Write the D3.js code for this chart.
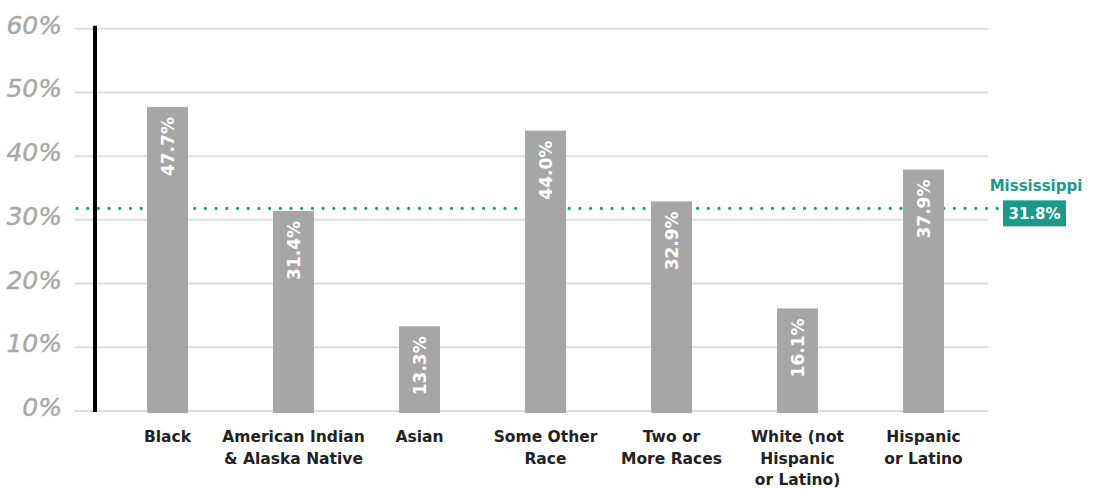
<!DOCTYPE html>
<html>
<head>
<meta charset="utf-8">
<script src="https://cdn.jsdelivr.net/npm/d3@7"></script>
<style>
  html, body { margin: 0; padding: 0; background: #fff; }
  svg { display: block; }
</style>
</head>
<body>
<svg id="chart" width="1094" height="489"></svg>
<script>
const categories = [
  ["Black"],
  ["American Indian", "& Alaska Native"],
  ["Asian"],
  ["Some Other", "Race"],
  ["Two or", "More Races"],
  ["White (not", "Hispanic", "or Latino)"],
  ["Hispanic", "or Latino"]
];
const values = [47.7, 31.4, 13.3, 44.0, 32.9, 16.1, 37.9];
const yTicks = [0, 10, 20, 30, 40, 50, 60];
const stateName = "Mississippi";
const stateValue = 31.8;

const svg = d3.select("#chart");
const teal = "#1a9a87";
const barColor = "#a6a6a6";
const fontFam = "'DejaVu Sans', sans-serif";

const y = d3.scaleLinear().domain([0, 60]).range([411, 28.7]);
const x = d3.scaleBand().domain(d3.range(categories.length)).range([104.5, 986.5]).paddingInner(0.675).paddingOuter(0.3375);

// gridlines
svg.append("g").selectAll("line").data(yTicks).join("line")
  .attr("x1", 75).attr("x2", 988)
  .attr("y1", d => y(d)).attr("y2", d => y(d))
  .attr("stroke", "#dcdcdc").attr("stroke-width", 2);

// y labels
svg.append("g").selectAll("text").data(yTicks).join("text")
  .attr("x", 62).attr("y", d => y(d) + 5)
  .attr("text-anchor", "end")
  .attr("font-family", fontFam).attr("font-style", "italic")
  .attr("font-size", 25).attr("fill", "#a8a8a8")
  .attr("stroke", "#a8a8a8").attr("stroke-width", 0.4)
  .text(d => d + "%");

// state dotted line
svg.append("line")
  .attr("x1", 77).attr("x2", 1000)
  .attr("y1", y(stateValue)).attr("y2", y(stateValue))
  .attr("stroke", teal).attr("stroke-width", 3.2)
  .attr("stroke-linecap", "round").attr("stroke-dasharray", "0,10.7");

// bars
svg.append("g").selectAll("rect").data(values).join("rect")
  .attr("x", (d, i) => x(i)).attr("width", x.bandwidth())
  .attr("y", d => y(d)).attr("height", d => y(0) + 2 - y(d))
  .attr("fill", barColor);

// vertical axis line
svg.append("line")
  .attr("x1", 95).attr("x2", 95)
  .attr("y1", y(60) - 3).attr("y2", y(0) + 1)
  .attr("stroke", "#000").attr("stroke-width", 4);

// bar value labels
svg.append("g").selectAll("text").data(values).join("text")
  .attr("transform", (d, i) => `translate(${x(i) + x.bandwidth() / 2 + 6.5},${y(d) + 10}) rotate(-90)`)
  .attr("text-anchor", "end")
  .attr("font-family", fontFam).attr("font-weight", "bold")
  .attr("font-size", 17).attr("fill", "#fff")
  .text(d => d.toFixed(1) + "%");

// x labels
const xl = svg.append("g").selectAll("text").data(categories).join("text")
  .attr("x", (d, i) => x(i) + x.bandwidth() / 2)
  .attr("y", 442)
  .attr("text-anchor", "middle")
  .attr("font-family", fontFam).attr("font-weight", "bold")
  .attr("font-size", 15.5).attr("fill", "#222");
xl.selectAll("tspan").data(d => d).join("tspan")
  .attr("x", function() { return d3.select(this.parentNode).attr("x"); })
  .attr("dy", (d, j) => j === 0 ? 0 : 21.5)
  .text(d => d);

// state label
svg.append("text")
  .attr("x", 1036).attr("y", 191)
  .attr("text-anchor", "middle")
  .attr("font-family", fontFam).attr("font-weight", "bold")
  .attr("font-size", 15).attr("fill", teal)
  .text(stateName);
svg.append("rect")
  .attr("x", 1003).attr("y", y(stateValue) - 8).attr("width", 63).attr("height", 26)
  .attr("fill", teal);
svg.append("text")
  .attr("x", 1034.5).attr("y", y(stateValue) + 11)
  .attr("text-anchor", "middle")
  .attr("font-family", fontFam).attr("font-weight", "bold")
  .attr("font-size", 15).attr("fill", "#fff")
  .text(stateValue.toFixed(1) + "%");
</script>
</body>
</html>
